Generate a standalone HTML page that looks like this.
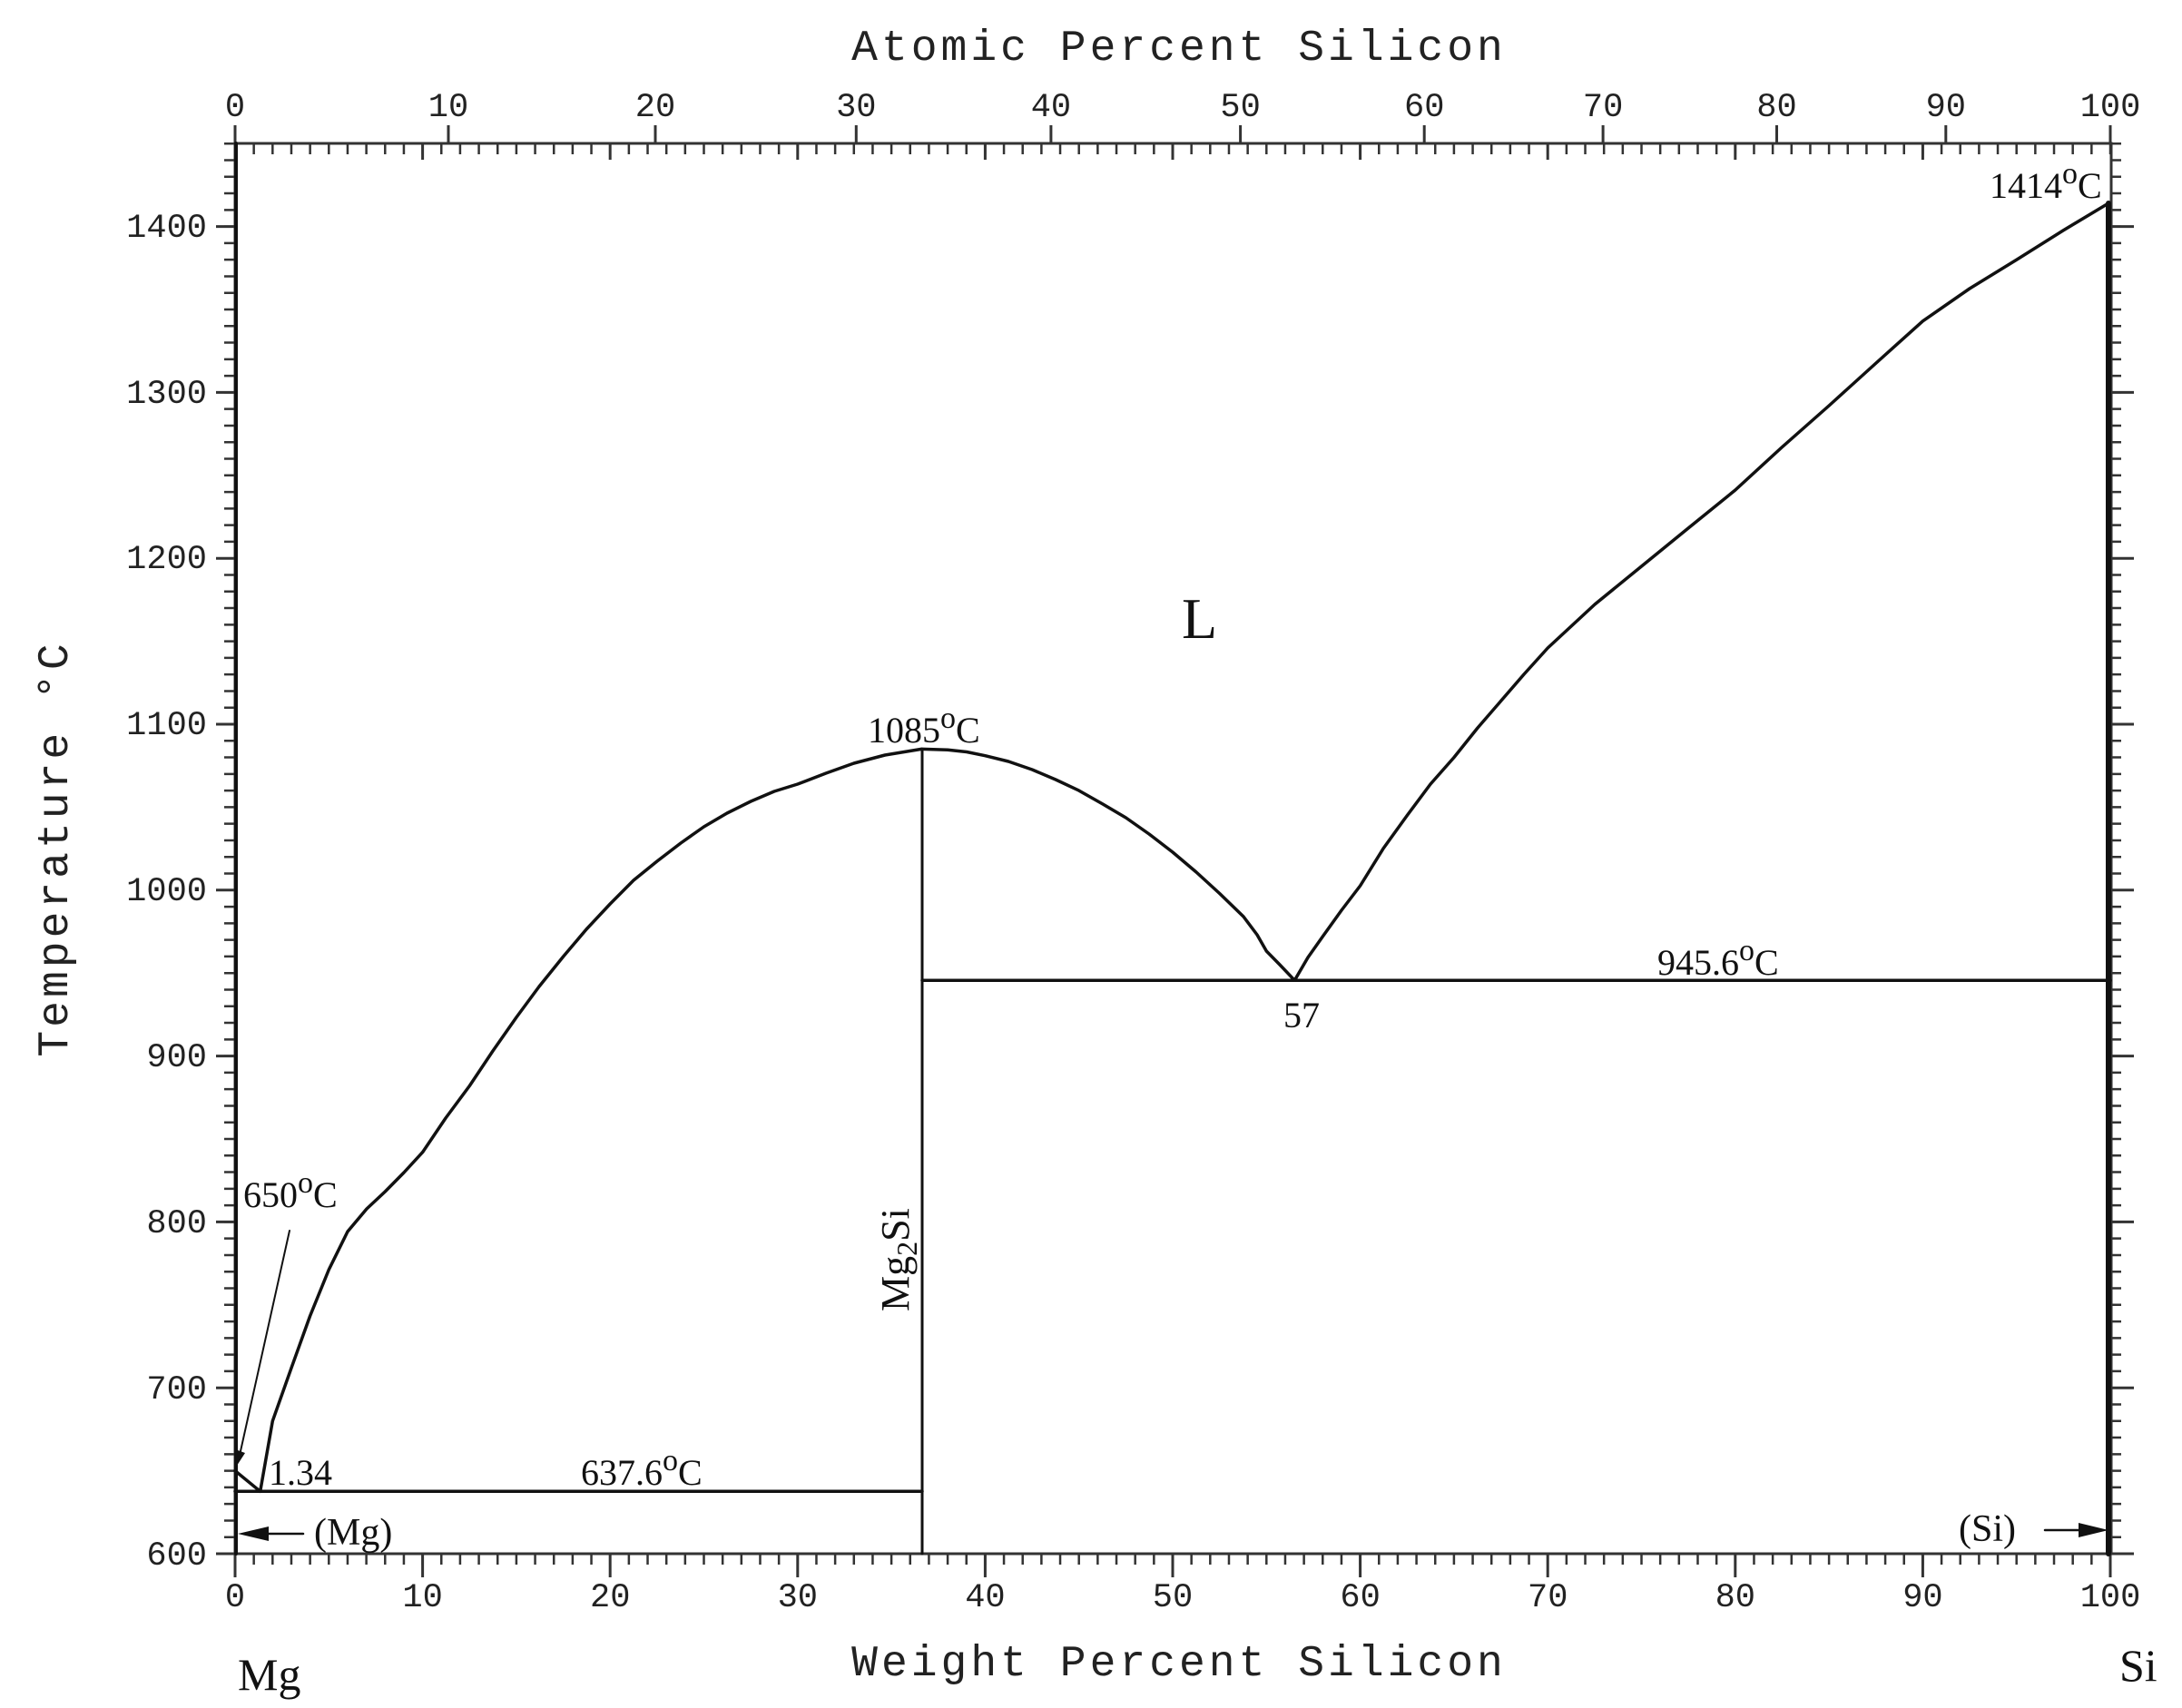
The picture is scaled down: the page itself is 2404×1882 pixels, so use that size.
<!DOCTYPE html>
<html><head><meta charset="utf-8"><style>
html,body{margin:0;padding:0;background:#fff;}
svg{display:block;}
.t{font-family:"Liberation Mono",monospace;font-size:37px;fill:#222;}
.a{font-family:"Liberation Mono",monospace;font-size:48px;fill:#222;letter-spacing:4px;}
.s{font-family:"Liberation Serif",serif;fill:#111;}
</style></head><body>
<svg width="2404" height="1882" viewBox="0 0 2404 1882" xmlns="http://www.w3.org/2000/svg">
<rect width="2404" height="1882" fill="#fff"/>
<g stroke="#333" fill="none">
<rect x="259" y="158" width="2067" height="1554" stroke-width="3"/>
<line x1="259" y1="1718" x2="2330" y2="1718" stroke-width="12" stroke-dasharray="2.5 18.16" stroke-dashoffset="1.25"/>
<line x1="259" y1="164" x2="2330" y2="164" stroke-width="12" stroke-dasharray="2.5 18.16" stroke-dashoffset="1.25"/>
<line x1="253" y1="1712" x2="253" y2="155" stroke-width="12" stroke-dasharray="2.5 15.78" stroke-dashoffset="1.25"/>
<line x1="2331" y1="1712" x2="2331" y2="155" stroke-width="12" stroke-dasharray="2.5 15.78" stroke-dashoffset="1.25"/>
<path stroke-width="3" d="M259 1712v26M465.6 1712v26M672.2 1712v26M878.8 1712v26M1085.4 1712v26M1292 1712v26M1498.6 1712v26M1705.2 1712v26M1911.8 1712v26M2118.4 1712v26M2325 1712v26"/>
<path stroke-width="3" d="M465.6 158v18M672.2 158v18M878.8 158v18M1085.4 158v18M1292 158v18M1498.6 158v18M1705.2 158v18M1911.8 158v18M2118.4 158v18"/>
<path stroke-width="3" d="M259 158v-20M494 158v-20M722 158v-20M943.3 158v-20M1157.9 158v-20M1366.6 158v-20M1569.2 158v-20M1766.1 158v-20M1957.5 158v-20M2143.8 158v-20M2325 158v-20"/>
<path stroke-width="3" d="M238 1712h21M238 1529.2h21M238 1346.4h21M238 1163.6h21M238 980.8h21M238 798h21M238 615.2h21M238 432.4h21M238 249.6h21
M2325 1712h26M2325 1529.2h26M2325 1346.4h26M2325 1163.6h26M2325 980.8h26M2325 798h26M2325 615.2h26M2325 432.4h26M2325 249.6h26"/>
</g>
<g stroke="#111" fill="none" stroke-width="3.5" stroke-linejoin="round" stroke-linecap="round">
<line x1="259" y1="1643.3" x2="1016" y2="1643.3"/>
<line x1="1016" y1="1080.2" x2="2325" y2="1080.2"/>
<line x1="1016" y1="825.4" x2="1016" y2="1712" stroke-width="3"/>
<line x1="2323" y1="224" x2="2323" y2="1712" stroke-width="6"/>
<line x1="260" y1="158" x2="260" y2="1712" stroke-width="4"/>
<path d="M259 1620.6 L286.7 1643.3"/>
<polyline points="286.7,1643.3 300.3,1565.8 321,1507.3 341.6,1450 362.3,1399 383,1357 404,1332 424.3,1313 445,1292 465.6,1269.6 491,1232 517.3,1196.5 543,1158 568.9,1121 594,1087 620.6,1054 646,1024 672.2,996 698,970 723.9,949 750,929 775.5,911 801,896 827.2,883 853,872 878.8,864 910,852 940.8,841 975,832 1015.2,825.4"/>
<polyline points="1016,825.4 1044.1,826.3 1065,828.5 1085.4,832.7 1111,839 1137.1,848 1163,859 1188.7,871.1 1215,886 1240.4,901 1266,919 1292,939 1318,961 1343.7,984.5 1370,1010 1385,1030 1395.3,1048 1410,1063 1426.3,1080.2"/>
<polyline points="1426.3,1080.2 1441,1055 1457.3,1031.9 1478,1003 1498.6,976 1524,935 1550.3,898.5 1576,864 1601.9,834.6 1628,802 1653.6,772.4 1679,743 1705.2,714 1757,666 1808.5,624 1860,582 1911.8,540 1963,493 2015.1,447 2067,400 2118.4,353.8 2170,318 2221.7,286.2 2273,254 2323,224"/>
<line x1="319" y1="1356" x2="263" y2="1608" stroke-width="2"/>
<line x1="334" y1="1690" x2="280" y2="1690" stroke-width="2.5"/>
<line x1="2253" y1="1686" x2="2300" y2="1686" stroke-width="2.5"/>
</g>
<g fill="#111">
<polygon points="259,1618 262,1598 270,1601"/>
<polygon points="262,1690 296,1682 296,1698"/>
<polygon points="2323,1686 2290,1678 2290,1694"/>
</g>
<g class="t" text-anchor="end">
<text x="228" y="1724">600</text><text x="228" y="1541">700</text><text x="228" y="1358">800</text>
<text x="228" y="1175">900</text><text x="228" y="992">1000</text><text x="228" y="809">1100</text>
<text x="228" y="626">1200</text><text x="228" y="444">1300</text><text x="228" y="261">1400</text>
</g>
<g class="t" text-anchor="middle">
<text x="259" y="1770">0</text><text x="465.6" y="1770">10</text><text x="672.2" y="1770">20</text><text x="878.8" y="1770">30</text>
<text x="1085.4" y="1770">40</text><text x="1292" y="1770">50</text><text x="1498.6" y="1770">60</text><text x="1705.2" y="1770">70</text>
<text x="1911.8" y="1770">80</text><text x="2118.4" y="1770">90</text><text x="2325" y="1770">100</text>
<text x="259" y="128">0</text><text x="494" y="128">10</text><text x="722" y="128">20</text><text x="943.3" y="128">30</text>
<text x="1157.9" y="128">40</text><text x="1366.6" y="128">50</text><text x="1569.2" y="128">60</text><text x="1766.1" y="128">70</text>
<text x="1957.5" y="128">80</text><text x="2143.8" y="128">90</text><text x="2325" y="128">100</text>
</g>
<text class="a" x="1299" y="66" text-anchor="middle">Atomic Percent Silicon</text>
<text class="a" x="1299" y="1846" text-anchor="middle">Weight Percent Silicon</text>
<text class="a" x="0" y="0" text-anchor="middle" transform="translate(74,935) rotate(-90)">Temperature °C</text>
<text class="s" x="262" y="1862" font-size="50">Mg</text>
<text class="s" x="2335" y="1852" font-size="50">Si</text>
<text class="s" x="1302" y="703" font-size="64">L</text>
<g class="s" font-size="40">
<text x="956" y="818">1085<tspan dy="-16" font-size="34">o</tspan><tspan dy="16">C</tspan></text>
<text x="2192" y="218">1414<tspan dy="-16" font-size="34">o</tspan><tspan dy="16">C</tspan></text>
<text x="1826" y="1074">945.6<tspan dy="-16" font-size="34">o</tspan><tspan dy="16">C</tspan></text>
<text x="1414" y="1132">57</text>
<text x="268" y="1330">650<tspan dy="-16" font-size="34">o</tspan><tspan dy="16">C</tspan></text>
<text x="296" y="1636">1.34</text>
<text x="640" y="1636">637.6<tspan dy="-16" font-size="34">o</tspan><tspan dy="16">C</tspan></text>
<text x="346" y="1702" font-size="42">(Mg)</text>
<text x="2158" y="1698" font-size="42">(Si)</text>
<text x="0" y="0" font-size="44" transform="translate(1001,1445) rotate(-90)">Mg<tspan font-size="32" dy="9">2</tspan><tspan dy="-9">Si</tspan></text>
</g>
</svg>
</body></html>
